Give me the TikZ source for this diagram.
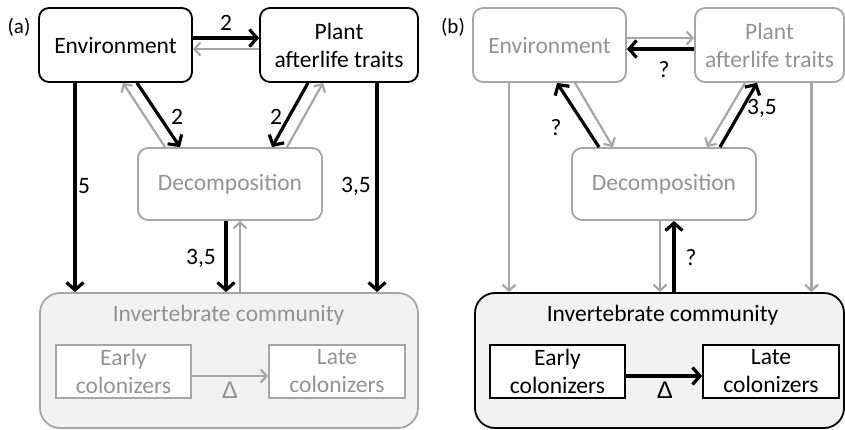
\documentclass[tikz,border=0pt]{standalone}
\usepackage{fontspec}
\setmainfont{Carlito}
\newfontfamily\dfont{Liberation Sans}
\usetikzlibrary{arrows.meta,calc}
\definecolor{lgray}{HTML}{A6A6A6}
\definecolor{tgray}{HTML}{939393}
\definecolor{ffill}{HTML}{F2F2F2}
\newcommand{\mainfs}{\fontsize{23.5}{28}\selectfont}
\tikzset{
  box/.style={rounded corners=10pt, line width=1.8pt, align=center, font=\mainfs, inner sep=0pt, fill=white},
  bbox/.style={box, draw=black, text=black},
  gbox/.style={box, draw=lgray, text=tgray},
  sqbox/.style={sharp corners, line width=1.8pt, align=center, font=\mainfs, inner sep=0pt, fill=white, minimum width=135pt, minimum height=53pt},
  barr/.style={line width=3.2pt, draw=black, -{Straight Barb[length=7.5pt,width=17pt]}},
  garr/.style={line width=2.2pt, draw=lgray, -{Straight Barb[length=6pt,width=13pt]}},
  lab/.style={font=\mainfs, inner sep=0pt, text=black},
  dlab/.style={font=\dfont\fontsize{24}{28}\selectfont, inner sep=0pt},
  plab/.style={font=\fontsize{21}{24}\selectfont, inner sep=0pt},
}
\begin{document}
\begin{tikzpicture}[x=1pt,y=-1pt]
\useasboundingbox (0,0) rectangle (845,429);
% ---------------- panel (a) ----------------
\node[plab] (pa) at (19,27) {(a)};
\node[bbox, minimum width=153pt, minimum height=74pt] (envA) at (115.5,45) {Environment};
\node[bbox, minimum width=158pt, minimum height=74pt] (plA) at (339,45) {Plant\\afterlife traits};
\node[gbox, minimum width=184pt, minimum height=72pt] (decA) at (230,184) {Decomposition};
\node[box, draw=lgray, fill=ffill, rounded corners=20pt, minimum width=378pt, minimum height=135pt] (invA) at (229,360.5) {};
\node[font=\mainfs, text=tgray, inner sep=0pt] (invAt) at (228.5,315) {Invertebrate community};
\node[sqbox, draw=lgray, text=tgray] (earA) at (123.5,371.5) {Early\\colonizers};
\node[sqbox, draw=lgray, text=tgray, minimum width=136pt] (latA) at (337,371.5) {Late\\colonizers};

\draw[barr] ([yshift=7pt]envA.east) -- ([yshift=7pt]plA.west);
\draw[garr] ([yshift=-4pt]plA.west) -- ([yshift=-4pt]envA.east);
\draw[garr] ([xshift=-65pt]decA.north) -- ([xshift=7.5pt]envA.south);
\draw[barr] ([xshift=21.5pt]envA.south) -- ([xshift=-50pt]decA.north);
\draw[garr] ([xshift=57pt]decA.north) -- ([xshift=-16pt]plA.south);
\draw[barr] ([xshift=-31pt]plA.south) -- ([xshift=42pt]decA.north);
\draw[barr] ([xshift=-40.5pt]envA.south) -- ([xshift=-40.5pt]envA.south |- invA.north);
\draw[barr] ([xshift=38pt]plA.south) -- ([xshift=38pt]plA.south |- invA.north);
\draw[barr] ([xshift=-4pt]decA.south) -- ([xshift=-4pt]decA.south |- invA.north);
\draw[garr] ([xshift=10pt]decA.south |- invA.north) -- ([xshift=10pt]decA.south);
\draw[garr] ([yshift=-4.5pt]earA.east) -- ([yshift=-4.5pt]latA.west);

\node[lab] (a1) at (226,22.5) {2};
\node[lab] (a2) at (177,117) {2};
\node[lab] (a3) at (276,117) {2};
\node[lab] (a4) at (84,186) {5};
\node[lab] (a5) at (356,186) {3,5};
\node[lab] (a6) at (201,258) {3,5};
\node[dlab, text=tgray] (a7) at (230,390.5) {Δ};

% ---------------- panel (b) ----------------
\node[plab] (pb) at (453,27) {(b)};
\node[gbox, minimum width=153pt, minimum height=74pt] (envB) at (549.5,45) {Environment};
\node[gbox, minimum width=149pt, minimum height=74pt] (plB) at (769.5,45) {Plant\\afterlife traits};
\node[gbox, minimum width=184pt, minimum height=72pt] (decB) at (664,184) {Decomposition};
\node[box, draw=black, fill=ffill, rounded corners=20pt, minimum width=369pt, minimum height=135pt] (invB) at (659.5,360.5) {};
\node[font=\mainfs, text=black, inner sep=0pt] (invBt) at (662.5,315) {Invertebrate community};
\node[sqbox, draw=black, text=black] (earB) at (557.5,371.5) {Early\\colonizers};
\node[sqbox, draw=black, text=black, minimum width=136pt] (latB) at (771,371.5) {Late\\colonizers};

\draw[garr] ([yshift=7pt]envB.east) -- ([yshift=7pt]plB.west);
\draw[barr] ([yshift=-4pt]plB.west) -- ([yshift=-4pt]envB.east);
\draw[barr] ([xshift=-65pt]decB.north) -- ([xshift=7.5pt]envB.south);
\draw[garr] ([xshift=25.5pt]envB.south) -- ([xshift=-51pt]decB.north);
\draw[barr] ([xshift=56pt]decB.north) -- ([xshift=-12.5pt]plB.south);
\draw[garr] ([xshift=-24.5pt]plB.south) -- ([xshift=43pt]decB.north);
\draw[garr] ([xshift=-40.5pt]envB.south) -- ([xshift=-40.5pt]envB.south |- invB.north);
\draw[garr] ([xshift=42pt]plB.south) -- ([xshift=42pt]plB.south |- invB.north);
\draw[garr] ([xshift=-4pt]decB.south) -- ([xshift=-4pt]decB.south |- invB.north);
\draw[barr] ([xshift=10pt]decB.south |- invB.north) -- ([xshift=10pt]decB.south);
\draw[barr] ([yshift=-4.5pt]earB.east) -- ([yshift=-4.5pt]latB.west);

\node[lab] (b1) at (664,70) {?};
\node[lab] (b2) at (556,128) {?};
\node[lab] (b3) at (762,108) {3,5};
\node[lab] (b4) at (691,258) {?};
\node[dlab] (b5) at (665,390.5) {Δ};
\end{tikzpicture}
\end{document}
